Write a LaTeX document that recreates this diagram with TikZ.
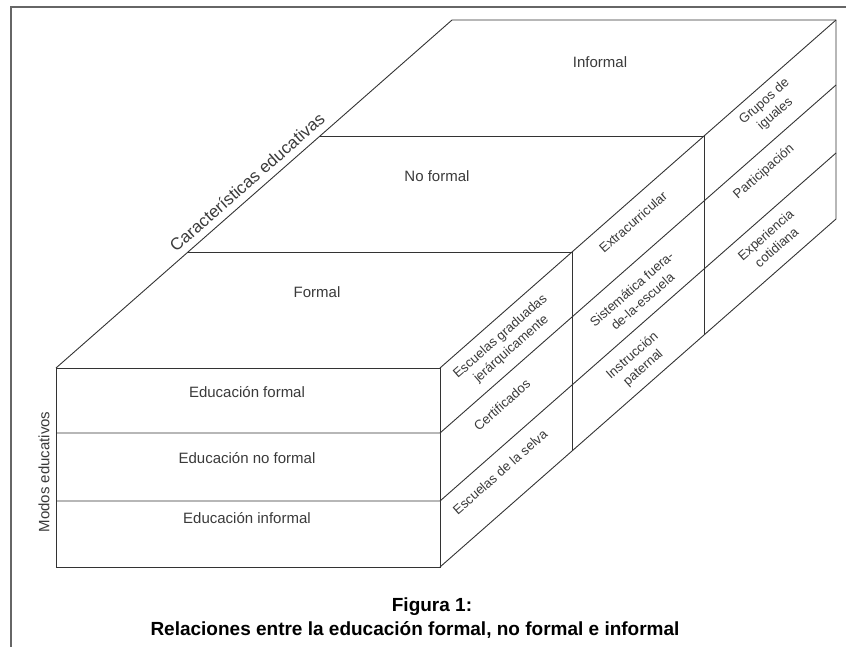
\documentclass[tikz,border=0pt]{standalone}
\usepackage{fontspec}
\setmainfont{Liberation Sans}
\newfontfamily\capfont{Liberation Sans}
\definecolor{linec}{HTML}{333333}
\definecolor{txtc}{HTML}{3A3A3A}
\definecolor{framec}{HTML}{666666}
\begin{document}
\begin{tikzpicture}[x=1pt,y=-1pt,
  edge/.style={draw=linec, line width=0.9pt, line join=miter},
  framel/.style={draw=framec, line width=2pt},
  toplab/.style={text=txtc, font=\fontsize{15}{17}\selectfont, inner sep=0pt},
  sidelab/.style={text=txtc, font=\fontsize{13.2}{16.5}\selectfont, rotate=41.3, align=center, inner sep=0pt},
  biglab/.style={text=txtc, font=\fontsize{17}{19}\selectfont, rotate=41.3, inner sep=0pt},
  caplab/.style={text=black, font=\capfont\bfseries\fontsize{19}{22}\selectfont, inner sep=0pt}]
\useasboundingbox (0,0) rectangle (846,647);
% frame (top and left only)
\coordinate (fTL) at (10.5,7.5);
\coordinate (fTR) at (846,7.5);
\coordinate (fBL) at (10.5,647);
\draw[framel] (fTR) -- (fTL) -- (fBL);
% cube corners
\coordinate (A0) at (56,368);  \coordinate (A1) at (188,252);
\coordinate (A2) at (320,136); \coordinate (A3) at (452,20);
\coordinate (B0) at (440,368); \coordinate (B1) at (572,252);
\coordinate (B2) at (704,136); \coordinate (B3) at (836,20);
\coordinate (C0) at (440,567); \coordinate (C1) at (572,451);
\coordinate (C2) at (704,335); \coordinate (C3) at (836,219);
\coordinate (D0) at (56,567);
\coordinate (P1) at (56,433);  \coordinate (Q1) at (440,433); \coordinate (S1) at (836,85);
\coordinate (P2) at (56,501);  \coordinate (Q2) at (440,501); \coordinate (S2) at (836,153);
% front face
\draw[edge] (A0) -- (B0) -- (C0) -- (D0) -- cycle;
\draw[edge] (P1) -- (Q1) -- (S1);
\draw[edge] (P2) -- (Q2) -- (S2);
% top faces
\draw[edge] (A0) -- (A3) -- (B3) -- (C3) -- (C0);
\draw[edge] (B0) -- (B3);
\draw[edge] (A1) -- (B1) -- (C1);
\draw[edge] (A2) -- (B2) -- (C2);
% top face labels
\node[toplab] (tInf) at (600,62) {Informal};
\node[toplab] (tNof) at (437,176) {No formal};
\node[toplab] (tFor) at (317,292) {Formal};
\node[biglab] (car) at (247,182) {Características educativas};
% front labels
\node[toplab] (eF) at (247,392) {Educación formal};
\node[toplab] (eN) at (247,458) {Educación no formal};
\node[toplab] (eI) at (247,518) {Educación informal};
\node[toplab, rotate=90] (modos) at (44,472) {Modos educativos};
% side labels
\node[sidelab] (s11) at (506,343) {Escuelas graduadas\\jerárquicamente};
\node[sidelab] (s12) at (502,405) {Certificados};
\node[sidelab] (s13) at (500,472) {Escuelas de la selva};
\node[sidelab] (s21) at (633,222) {Extracurricular};
\node[sidelab] (s22) at (637,295) {Sistemática fuera-\\de-la-escuela};
\node[sidelab] (s23) at (638,362) {Instrucción\\paternal};
\node[sidelab] (s31) at (770,108) {Grupos de\\iguales};
\node[sidelab] (s32) at (764,172) {Participación};
\node[sidelab] (s33) at (771,241) {Experiencia\\cotidiana};
% caption
\node[caplab] (cap1) at (432,607) {Figura 1:};
\node[caplab] (cap2) at (415,630) {Relaciones entre la educación formal, no formal e informal};
\end{tikzpicture}
\end{document}
